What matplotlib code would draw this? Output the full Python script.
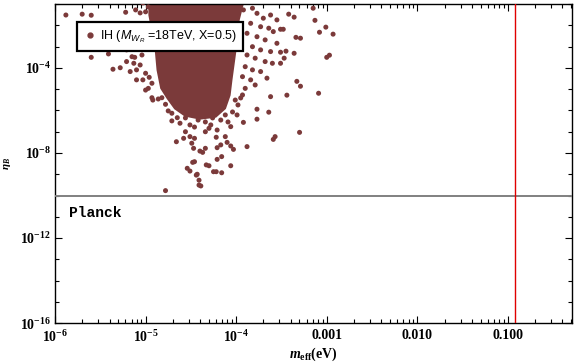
import numpy as np
import matplotlib
matplotlib.use("Agg")
import matplotlib.pyplot as plt
from matplotlib.lines import Line2D
from matplotlib.patches import Polygon
from matplotlib.ticker import LogLocator, FixedLocator, NullFormatter

plt.rcParams['mathtext.fontset'] = 'custom'
plt.rcParams['mathtext.rm'] = 'Liberation Serif:bold'
plt.rcParams['mathtext.bf'] = 'Liberation Serif:bold'
plt.rcParams['mathtext.it'] = 'Liberation Serif:italic:bold'
plt.rcParams['mathtext.sf'] = 'Liberation Sans:italic'

# ---- data (log10 values) ----
log_meff = [
    -5.88, -5.70, -5.60, -5.22, -5.41, -5.60, -5.36, -5.28, -5.21, -5.12, -5.13, -5.17,
    -5.10, -5.03, -5.00, -4.93, -5.04, -5.11, -5.06, -5.00, -4.97, -5.03,
    -5.15, -5.10, -5.06, -5.00, -4.96, -4.93, -4.97, -5.21,
    -3.15, -3.42, -3.36, -3.13, -3.51, -3.48, -3.01, -3.08, -2.93, -3.34, -3.29,
    -3.51, -3.45, -3.36, -3.47, -3.51, -2.97, -3.00, -3.33, -3.29, -3.44, -3.09, -3.30,
    -3.92, -3.82, -3.77, -3.70, -3.62, -3.55, -3.84, -3.73, -3.64, -3.59, -3.88, -3.77,
    -3.68, -3.55, -3.82, -3.73, -3.62, -3.88, -3.79, -3.68, -3.60, -3.90, -3.82, -3.73,
    -3.93, -3.84, -3.66, -3.79, -3.90, -3.62, -3.93,
    -3.77, -3.64, -3.92, -3.77, -3.57, -3.59, -3.88, -4.06, -4.03, -4.12, -4.10, -4.22,
    -4.21, -4.06, -4.30, -4.34, -4.17, -4.21, -4.34, -4.40, -4.37, -4.47, -4.49, -4.51,
    -4.46, -4.56, -4.58, -4.16, -4.21, -4.06, -4.30, -4.48, -4.54, -4.51, -4.43, -4.22,
    -4.16, -4.41, -4.39, -4.78,
    -4.92, -4.86, -4.82, -4.78, -4.75, -4.71, -4.71, -4.65, -4.66, -4.62,
    -4.44, -4.41, -4.46, -4.33, -4.25,
    -4.01, -3.98, -4.04, -4.12, -4.17, -4.26, -4.34, -4.42, -4.51, -4.56, -3.95, -3.99,
    -4.09, -4.28, -4.46,
]
log_eta = [
    -1.51, -1.47, -1.52, -1.38, -3.34, -3.50, -4.06, -3.99, -3.70, -3.50, -3.78, -4.17,
    -4.56, -4.56, -5.04, -5.40, -3.39, -1.27, -1.41, -1.36, -1.13, -0.94,
    -3.47, -4.09, -3.86, -4.25, -4.44, -4.72, -4.96, -3.15,
    -1.19, -1.47, -1.61, -1.76, -2.18, -2.18, -2.08, -2.32, -2.41, -2.56, -2.60,
    -3.26, -3.21, -3.31, -3.54, -3.78, -3.40, -3.50, -4.63, -4.86, -5.28, -5.19, -7.03,
    -1.27, -1.19, -1.43, -1.66, -1.51, -1.74, -1.90, -2.06, -2.13, -2.29, -2.37, -2.53,
    -2.68, -2.84, -3.00, -3.15, -3.23, -3.39, -3.54, -3.70, -3.78, -3.94, -4.09, -4.17,
    -4.41, -4.56, -4.48, -4.80, -4.96, -5.35, -5.27,
    -5.94, -6.08, -6.56, -6.41, -7.23, -7.36, -7.70, -7.67, -7.83, -7.23, -7.50, -7.26,
    -6.92, -6.76, -6.84, -7.00, -7.62, -7.75, -7.78, -7.91, -7.97, -7.78, -7.54, -7.23,
    -7.31, -7.00, -7.31, -8.17, -8.30, -8.60, -8.60, -8.44, -8.72, -8.85, -9.00, -8.88,
    -8.93, -9.28, -9.55, -9.77,
    -5.51, -5.46, -5.40, -5.71, -6.02, -6.13, -6.49, -6.34, -7.47, -6.60,
    -9.04, -9.51, -8.41, -8.56, -8.88,
    -5.51, -5.74, -6.07, -6.21, -6.45, -6.35, -6.54, -6.45, -6.68, -6.35, -5.41, -6.21,
    -6.54, -6.68, -6.78,
]
# outline of the densely filled core of the scatter (log10 values)
core_log_meff = [-4.95, -3.93, -3.98, -4.00, -4.03, -4.06, -4.08, -4.13, -4.23, -4.40,
                 -4.56, -4.67, -4.75, -4.82, -4.86, -4.88, -4.92, -4.95]
core_log_eta = [-0.90, -0.90, -1.74, -2.68, -3.62, -4.56, -5.27, -5.88, -6.26, -6.35,
                -6.21, -5.88, -5.41, -4.94, -4.09, -3.15, -2.21, -1.51]

planck_eta = 1e-10
meff_bound = 0.12
legend_label = r'IH ($\mathsf{M_{W_R}}$ =18TeV, X=0.5)'

xticks = [1e-6, 1e-5, 1e-4, 1e-3, 1e-2, 1e-1]
xticklabels = [r'$10^{-6}$', r'$10^{-5}$', r'$10^{-4}$', '0.001', '0.010', '0.100']
yticks = [1e-16, 1e-12, 1e-8, 1e-4]
yticklabels = [r'$10^{-16}$', r'$10^{-12}$', r'$10^{-8}$', r'$10^{-4}$']

color = '#7b3a3a'

fig = plt.figure(figsize=(5.76, 3.63), dpi=100)
ax = fig.add_axes([0.0955, 0.110, 0.8975, 0.879])

core = Polygon(np.column_stack([10.0 ** np.array(core_log_meff),
                                10.0 ** np.array(core_log_eta)]),
               closed=True, facecolor=color, edgecolor=color, lw=2.5,
               alpha=1.0, zorder=2)
ax.add_patch(core)
ax.scatter(10.0 ** np.array(log_meff), 10.0 ** np.array(log_eta), s=13,
           color=color, edgecolors='none', zorder=3)

ax.axhline(planck_eta, color='#808080', lw=1.4, zorder=4)
ax.axvline(meff_bound, color='#e00000', lw=1.0, zorder=4)

ax.set_xscale('log')
ax.set_yscale('log')
ax.set_xlim(1e-6, 0.51)
ax.set_ylim(1e-16, 1.02e-1)

ax.xaxis.set_major_locator(FixedLocator(xticks))
ax.set_xticklabels(xticklabels)
ax.xaxis.set_minor_locator(LogLocator(base=10, subs=np.arange(2, 10), numticks=20))
ax.xaxis.set_minor_formatter(NullFormatter())
ax.yaxis.set_major_locator(FixedLocator(yticks))
ax.set_yticklabels(yticklabels)
ax.yaxis.set_minor_locator(FixedLocator([10.0 ** k for k in range(-16, 0)]))
ax.yaxis.set_minor_formatter(NullFormatter())

ax.tick_params(which='both', direction='in', top=True, right=True, width=0.8,
               labelsize=10, pad=3)
ax.tick_params(which='major', length=5)
ax.tick_params(which='minor', length=3)
ax.tick_params(axis='x', pad=4)
for lab in ax.get_xticklabels() + ax.get_yticklabels():
    lab.set_fontfamily('Liberation Serif')
    lab.set_fontweight('bold')
for s in ax.spines.values():
    s.set_linewidth(1.0)

ax.set_ylabel(r'$\eta_B$', fontsize=8, labelpad=5)
ax.set_xlabel(r'$m_{\mathrm{eff}}$(eV)', fontsize=10, labelpad=1,
              fontfamily='Liberation Serif', fontweight='bold')

ax.text(0.027, 0.345, 'Planck', transform=ax.transAxes, fontsize=10.5,
        family='Liberation Mono', fontweight='bold', va='center', ha='left')

handle = Line2D([], [], ls='none', marker='o', markersize=3.5, color=color)
leg = ax.legend([handle], [legend_label], loc='upper left',
                bbox_to_anchor=(0.031, 0.962), frameon=True, fancybox=False,
                handletextpad=0.3, handlelength=1.0, borderpad=0.5,
                framealpha=1.0, prop={'family': 'Liberation Sans', 'size': 9})
leg.get_frame().set_edgecolor('black')
leg.get_frame().set_linewidth(1.6)
leg.set_zorder(10)

fig.savefig('out.png', dpi=100)
